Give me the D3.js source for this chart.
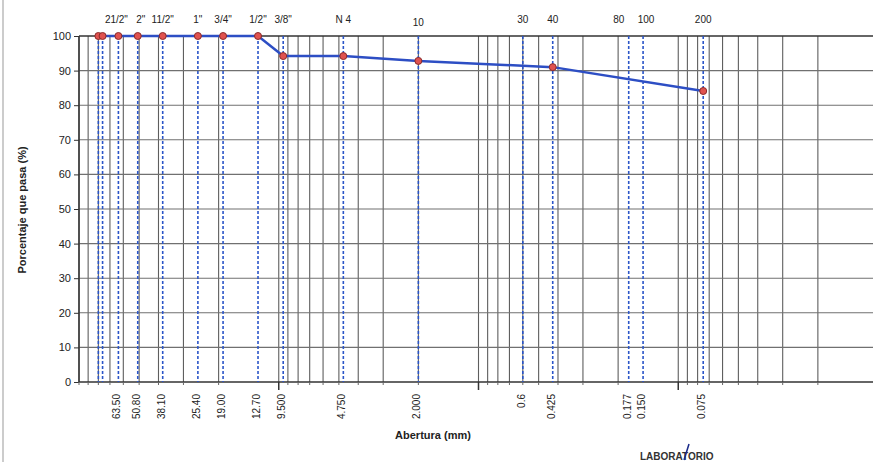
<!DOCTYPE html>
<html>
<head>
<meta charset="utf-8">
<script src="https://cdn.jsdelivr.net/npm/d3@7"></script>
<style>
  body { margin: 0; background: #fff; }
  svg { display: block; font-family: "Liberation Sans", Arial, sans-serif; }
</style>
</head>
<body>
<div id="chart"></div>
<script>
// Curva granulometrica
const sieveNames = ['21/2"', '2"', '11/2"', '1"', '3/4"', '1/2"', '3/8"', "N 4", "10", "30", "40", "80", "100", "200"];
const sieveSizes = [63.5, 50.8, 38.1, 25.4, 19.0, 12.7, 9.5, 4.75, 2.0, 0.6, 0.425, 0.177, 0.150, 0.075];
const sizeLabels = ["63.50", "50.80", "38.10", "25.40", "19.00", "12.70", "9.500", "4.750", "2.000", "0.6", "0.425", "0.177", "0.150", "0.075"];
const extraSizes = [80, 76.2];

const curveSizes = [80, 76.2, 63.5, 50.8, 38.1, 25.4, 19.0, 12.7, 9.5, 4.75, 2.0, 0.425, 0.075];
const curvePass = [100, 100, 100, 100, 100, 100, 100, 100, 94.2, 94.2, 92.8, 91.0, 84.1];

const yTicks = [0, 10, 20, 30, 40, 50, 60, 70, 80, 90, 100];

const width = 873;
const height = 462;
const plotTop = 36;
const plotBottom = 382;
const plotLeft = 79;
const plotRight = 878;

const svg = d3.select("#chart")
    .append("svg")
    .attr("width", width)
    .attr("height", height);

const x = d3.scaleLog()
    .domain([100, 0.01])
    .range([plotLeft, plotRight]);

const y = d3.scaleLinear()
    .domain([0, 100])
    .range([plotBottom, plotTop]);

// marco izquierdo de la hoja
svg.append("line")
    .attr("x1", 3).attr("x2", 3)
    .attr("y1", 0).attr("y2", height)
    .attr("stroke", "#999").attr("stroke-width", 1);

// lineas verticales (grilla logaritmica)
const gridVals = [];
[0.01, 0.1, 1, 10].forEach(dec => {
    for (let m = 1; m <= 9; m++) gridVals.push(dec * m);
});
gridVals.push(100);

svg.append("g")
    .selectAll("line")
    .data(gridVals)
    .join("line")
    .attr("x1", d => x(d)).attr("x2", d => x(d))
    .attr("y1", plotTop).attr("y2", plotBottom)
    .attr("stroke", "#5e5e5e")
    .attr("stroke-width", 1.1);

// lineas horizontales
svg.append("g")
    .selectAll("line")
    .data(yTicks)
    .join("line")
    .attr("x1", plotLeft).attr("x2", width)
    .attr("y1", d => y(d)).attr("y2", d => y(d))
    .attr("stroke", d => (d === 0 || d === 100) ? "#333" : "#707070")
    .attr("stroke-width", d => (d === 0 || d === 100) ? 1.5 : 1.1);

// eje Y
svg.append("line")
    .attr("x1", plotLeft).attr("x2", plotLeft)
    .attr("y1", plotTop).attr("y2", plotBottom)
    .attr("stroke", "#333").attr("stroke-width", 1.5);

svg.append("g")
    .attr("transform", `translate(${plotLeft},0)`)
    .call(d3.axisLeft(y).tickValues(yTicks).tickSize(5).tickPadding(3))
    .call(g => g.select(".domain").remove())
    .call(g => g.selectAll("line").attr("stroke", "#333"))
    .call(g => g.selectAll("text")
        .attr("font-size", "11px")
        .attr("fill", "#222")
        .attr("font-family", "Liberation Sans, Arial, sans-serif"));

// marcas del eje X (decadas)
svg.append("g")
    .selectAll("line")
    .data([10, 1, 0.1])
    .join("line")
    .attr("x1", d => x(d)).attr("x2", d => x(d))
    .attr("y1", plotBottom).attr("y2", plotBottom + 8)
    .attr("stroke", "#333").attr("stroke-width", 1.5);

svg.append("g")
    .selectAll("line")
    .data(gridVals.filter(d => ![10, 1, 0.1].includes(d)))
    .join("line")
    .attr("x1", d => x(d)).attr("x2", d => x(d))
    .attr("y1", plotBottom).attr("y2", plotBottom + 3)
    .attr("stroke", "#666").attr("stroke-width", 1);

// lineas punteadas de los tamices
svg.append("g")
    .selectAll("line")
    .data(extraSizes.concat(sieveSizes))
    .join("line")
    .attr("x1", d => x(d)).attr("x2", d => x(d))
    .attr("y1", plotTop).attr("y2", plotBottom)
    .attr("stroke", "#2b55c8")
    .attr("stroke-width", 1.6)
    .attr("stroke-dasharray", "3,2");

// nombres de tamices arriba (algunos corridos para que no se pisen)
const nameShift = { '21/2"': -2, '2"': 3, "80": -10, "100": 3 };
svg.append("g")
    .selectAll("text")
    .data(sieveNames)
    .join("text")
    .attr("x", (d, i) => x(sieveSizes[i]) + (nameShift[d] || 0))
    .attr("y", d => d === "10" ? 26 : 23)
    .attr("text-anchor", "middle")
    .attr("font-size", "10px")
    .attr("fill", "#222")
    .text(d => d);

// aberturas abajo (rotadas)
svg.append("g")
    .selectAll("text")
    .data(sizeLabels)
    .join("text")
    .attr("transform", (d, i) => `translate(${x(sieveSizes[i]) + 2},394) rotate(-90)`)
    .attr("text-anchor", "end")
    .attr("font-size", "10px")
    .attr("fill", "#222")
    .text(d => d);

// curva
const pts = curveSizes.map((s, i) => [s, curvePass[i]]);
svg.append("path")
    .datum(pts)
    .attr("fill", "none")
    .attr("stroke", "#2d4ec4")
    .attr("stroke-width", 2.5)
    .attr("d", d3.line().x(d => x(d[0])).y(d => y(d[1])));

svg.append("g")
    .selectAll("circle")
    .data(pts)
    .join("circle")
    .attr("cx", d => x(d[0]))
    .attr("cy", d => y(d[1]))
    .attr("r", 3.5)
    .attr("fill", "#e0524f")
    .attr("stroke", "#8a2a2a")
    .attr("stroke-width", 1);

// titulos de ejes
svg.append("text")
    .attr("transform", `translate(26,210) rotate(-90)`)
    .attr("text-anchor", "middle")
    .attr("font-size", "11px")
    .attr("font-weight", "bold")
    .attr("fill", "#222")
    .text("Porcentaje que pasa (%)");

svg.append("text")
    .attr("x", 433)
    .attr("y", 439)
    .attr("text-anchor", "middle")
    .attr("font-size", "11px")
    .attr("font-weight", "bold")
    .attr("fill", "#222")
    .text("Abertura (mm)");

// sello del laboratorio
svg.append("text")
    .attr("x", 640)
    .attr("y", 460)
    .attr("font-size", "10px")
    .attr("font-weight", "bold")
    .attr("fill", "#333")
    .text("LABORATORIO");

svg.append("line")
    .attr("x1", 689).attr("y1", 444)
    .attr("x2", 684).attr("y2", 460)
    .attr("stroke", "#1a2a8a").attr("stroke-width", 1.5);
</script>
</body>
</html>
